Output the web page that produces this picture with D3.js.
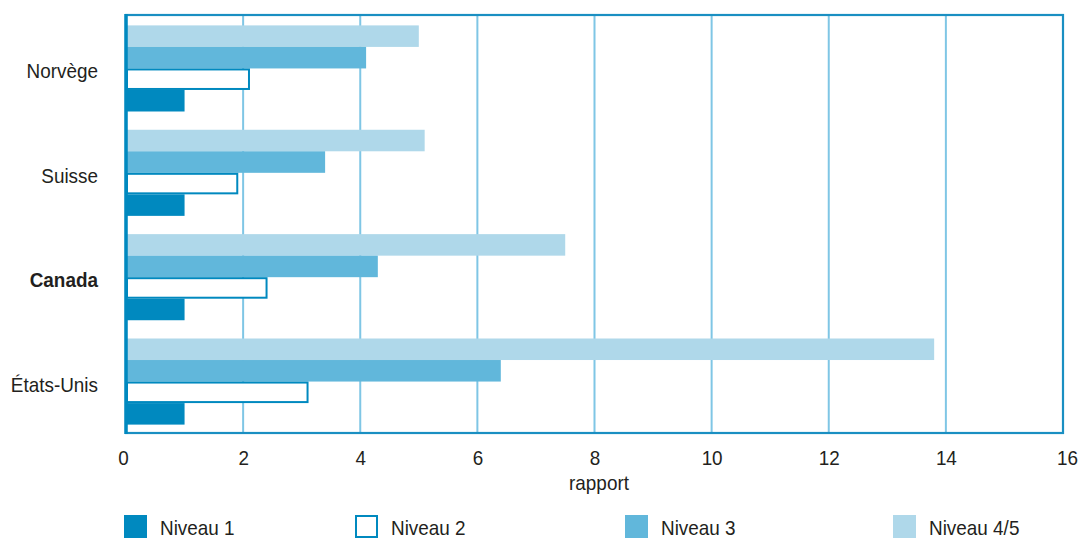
<!DOCTYPE html>
<html><head><meta charset="utf-8">
<script src="https://cdn.jsdelivr.net/npm/d3@7"></script>
<style>
body{margin:0;background:#fff;}
text{font-family:"Liberation Sans",Arial,sans-serif;fill:#231f20;}
</style></head>
<body><svg id="c" width="1082" height="538"></svg>
<script>
const categories = ["Norvège","Suisse","Canada","États-Unis"];
const seriesNames = ["Niveau 4/5","Niveau 3","Niveau 2","Niveau 1"];
const niveau1 = [1.0, 1.0, 1.0, 1.0];
const niveau2 = [2.1, 1.9, 2.4, 3.1];
const niveau3 = [4.1, 3.4, 4.3, 6.4];
const niveau45 = [5.0, 5.1, 7.5, 13.8];
const xTicks = [0,2,4,6,8,10,12,14,16];
const legendNames = ["Niveau 1","Niveau 2","Niveau 3","Niveau 4/5"];

const colors = {"Niveau 1":"#0089bf","Niveau 2":"#ffffff","Niveau 3":"#61b7db","Niveau 4/5":"#afd8ea"};
const strokes = {"Niveau 2":"#0089bf"};
const values = {"Niveau 1":niveau1,"Niveau 2":niveau2,"Niveau 3":niveau3,"Niveau 4/5":niveau45};

const FS = "21px";
const svg = d3.select("#c");
const L=126, R=1063, T=15, B=433;
const x = d3.scaleLinear().domain([0,16]).range([L,R]);
const y = d3.scaleBand().domain(categories).range([T+1,B+1]).paddingInner(0.175).paddingOuter(0.09);
const ys = d3.scaleBand().domain(seriesNames).range([0,y.bandwidth()]);

// gridlines
svg.append("g").selectAll("line").data(xTicks.slice(1,-1)).join("line")
  .attr("x1",d=>x(d)).attr("x2",d=>x(d)).attr("y1",T).attr("y2",B)
  .attr("stroke","#7fc6e5").attr("stroke-width",2);

// bars
const g = svg.append("g");
categories.forEach((c,i)=>{
  seriesNames.forEach(s=>{
    const v = values[s][i];
    const sw = strokes[s]?2:0;
    g.append("rect")
      .attr("x", x(0)+ (sw?1:0))
      .attr("y", y(c)+ys(s) + (sw?1:0))
      .attr("width", x(v)-x(0) - (sw?1:0))
      .attr("height", ys.bandwidth() - (sw?2:0))
      .attr("fill", colors[s])
      .attr("stroke", strokes[s]||"none")
      .attr("stroke-width", sw);
  });
});

// frame
svg.append("rect").attr("x",L).attr("y",T).attr("width",R-L).attr("height",B-T)
  .attr("fill","none").attr("stroke","#1a8fc2").attr("stroke-width",2.2);
svg.append("line").attr("x1",L).attr("x2",L).attr("y1",T-1).attr("y2",B+1)
  .attr("stroke","#0089bf").attr("stroke-width",3.5);

// x axis labels
const xa = svg.append("g").attr("transform",`translate(0,${B})`)
  .call(d3.axisBottom(x).tickValues(xTicks).tickSize(0).tickPadding(32).tickFormat(d3.format("d")));
xa.select(".domain").remove();
xa.selectAll("text").style("font-size",FS).attr("fill","#231f20").attr("dy","0")
  .attr("dx", d=> d===0 ? -3 : (d===16? 4 : 0));

svg.append("text").attr("x",599).attr("y",490).attr("text-anchor","middle")
  .style("font-size",FS).text("rapport");

// y labels
const ya = svg.append("g").attr("transform",`translate(${L},0)`)
  .call(d3.axisLeft(y).tickSize(0).tickPadding(28));
ya.select(".domain").remove();
ya.selectAll("text").style("font-size",FS).attr("fill","#231f20").attr("dy","10")
  .style("font-weight",d=>d==="Canada"?"bold":"normal");

// legend
const legX = [124, 355, 625, 893];
const lg = svg.append("g");
legendNames.forEach((n,i)=>{
  const sw = strokes[n]?2:0;
  lg.append("rect").attr("x",legX[i]+(sw?1:0)).attr("y",515+(sw?1:0))
    .attr("width",23-(sw?2:0)).attr("height",23-(sw?2:0))
    .attr("fill",colors[n]).attr("stroke",strokes[n]||"none").attr("stroke-width",sw);
  lg.append("text").attr("x",legX[i]+36).attr("y",535).style("font-size",FS).text(n);
});

// condense all text horizontally to mimic the condensed face
svg.selectAll("text").each(function(){
  const w = this.getComputedTextLength();
  this.setAttribute("textLength", (w*0.9).toFixed(1));
  this.setAttribute("lengthAdjust","spacingAndGlyphs");
});
</script></body></html>
